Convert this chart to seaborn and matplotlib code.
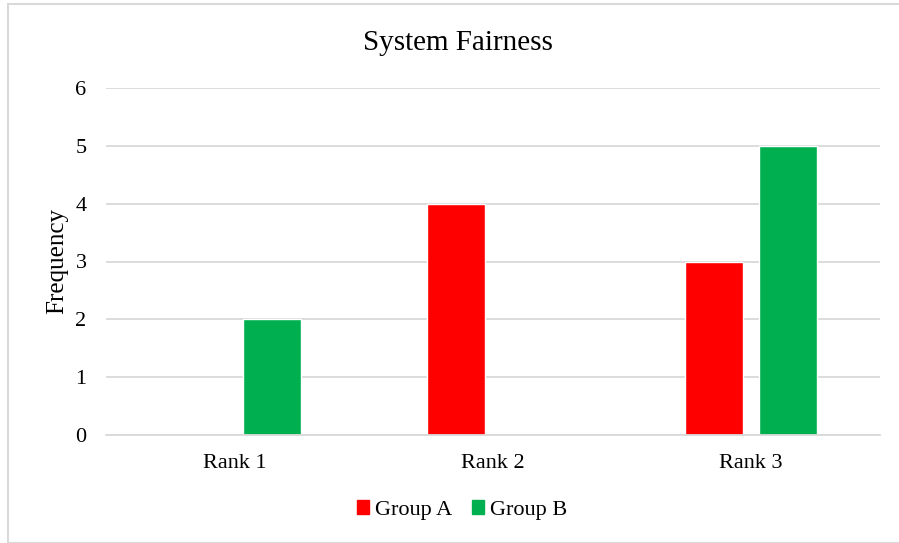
import pandas as pd
import matplotlib.pyplot as plt
import seaborn as sns
from matplotlib.patches import Rectangle

# chart data
ranks = ['Rank 1', 'Rank 2', 'Rank 3']
group_a = [0, 4, 3]
group_b = [2, 0, 5]
groups = ['Group A', 'Group B']
colors = ['#FF0000', '#00B050']

df = pd.DataFrame({
    'rank': ranks * 2,
    'freq': group_a + group_b,
    'group': [groups[0]] * 3 + [groups[1]] * 3,
})

sns.set_style('white')
plt.rcParams['font.family'] = ['Liberation Serif', 'DejaVu Serif']
plt.rcParams['text.color'] = 'black'
plt.rcParams['xtick.color'] = 'black'
plt.rcParams['ytick.color'] = 'black'
plt.rcParams['axes.labelcolor'] = 'black'

fig = plt.figure(figsize=(8.99, 5.43), dpi=100)
ax = fig.add_axes([106 / 899, 1 - 435 / 543, (880 - 106) / 899, (435 - 88) / 543])

sns.barplot(data=df, x='rank', y='freq', hue='group', palette=colors,
            width=0.57, gap=0.21, saturation=1, ax=ax, legend=False)

ax.set_ylim(0, 6)
ax.set_xlim(-0.5, 2.5)
ax.set_yticks(range(7))
ax.yaxis.grid(True, color='#D9D9D9', linewidth=1.3)
ax.set_axisbelow(True)
for s in ['top', 'right', 'left']:
    ax.spines[s].set_visible(False)
ax.spines['bottom'].set_color('#D9D9D9')
ax.spines['bottom'].set_linewidth(1.3)
ax.tick_params(axis='both', length=0, labelsize=16)
ax.tick_params(axis='y', pad=14)
ax.tick_params(axis='x', pad=14)
ax.set_xlabel('')
ax.set_ylabel('Frequency', fontsize=18, labelpad=5)
fig.text(458 / 899, 1 - 43 / 543, 'System Fairness', ha='center', va='center', fontsize=21)

handles = [Rectangle((0, 0), 1, 1, color=c) for c in colors]
fig.legend(handles, groups, loc='center', bbox_to_anchor=(462 / 899, 1 - 510 / 543),
           ncol=2, frameon=False, fontsize=16, handlelength=0.55, handleheight=0.55,
           handletextpad=0.25, columnspacing=0.9)

fig.patches.append(Rectangle((8 / 899, 0), 1, 1 - 4 / 543, transform=fig.transFigure,
                             fill=False, edgecolor='#D9D9D9', linewidth=1.5))

fig.savefig('out.png', dpi=100)
